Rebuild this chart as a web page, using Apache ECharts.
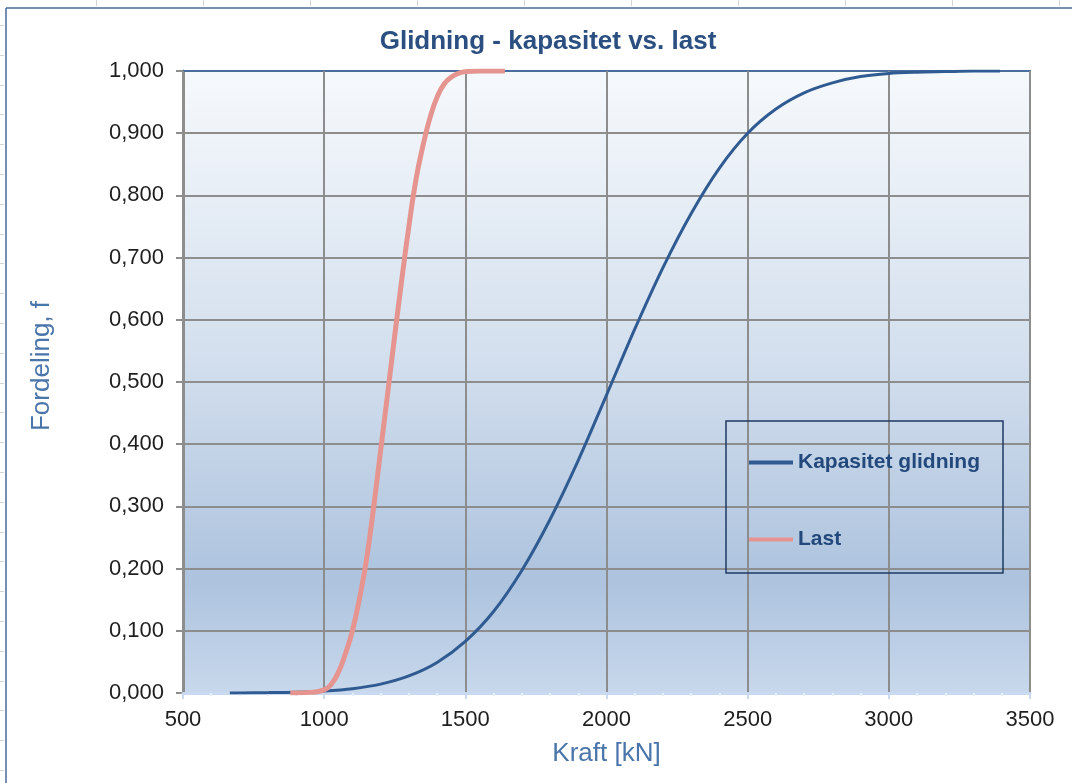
<!DOCTYPE html>
<html>
<head>
<meta charset="utf-8">
<script src="https://cdn.jsdelivr.net/npm/echarts@6/dist/echarts.min.js"></script>
<style>html,body{margin:0;padding:0;background:#fff;}#c{width:1072px;height:783px;}</style>
</head>
<body>
<div id="c"></div>
<script>
// ---- data ----
const titleText = 'Glidning - kapasitet vs. last';
const xName = 'Kraft [kN]';
const yName = 'Fordeling, f';
const seriesNames = ['Kapasitet glidning', 'Last'];

const kapX = [666, 700, 800, 900, 1000, 1100, 1200, 1300, 1400, 1500, 1600, 1700, 1800, 1900, 2000, 2100, 2200, 2300, 2400, 2500, 2600, 2700, 2800, 2900, 3000, 3100, 3200, 3300, 3394];
const kapY = [0.0001, 0.0002, 0.0006, 0.0014, 0.0033, 0.0070, 0.0143, 0.0274, 0.0491, 0.0829, 0.131, 0.197, 0.279, 0.374, 0.479, 0.585, 0.684, 0.771, 0.844, 0.900, 0.939, 0.965, 0.981, 0.991, 0.996, 0.998, 0.999, 1.000, 1.000];

const lastX = [880, 950, 1000, 1025, 1050, 1075, 1100, 1125, 1150, 1175, 1200, 1225, 1250, 1275, 1300, 1325, 1350, 1375, 1400, 1425, 1450, 1475, 1500, 1550, 1640];
const lastY = [0.000, 0.001, 0.005, 0.014, 0.033, 0.063, 0.100, 0.152, 0.215, 0.298, 0.390, 0.482, 0.575, 0.665, 0.750, 0.825, 0.880, 0.925, 0.958, 0.979, 0.990, 0.996, 0.999, 1.000, 1.000];

const xMin = 500, xMax = 3500, xStep = 500;
const yMin = 0, yMax = 1, yStep = 0.1;

// ---- chart ----
const chart = echarts.init(document.getElementById('c'), null, {renderer: 'canvas'});
const font = 'Liberation Sans, Arial, sans-serif';

const deco = [];
// outer frame of the chart object
deco.push({type: 'line', shape: {x1: 6, y1: 8, x2: 6, y2: 783}, style: {stroke: '#4a6a99', lineWidth: 1.5}, silent: true});
deco.push({type: 'line', shape: {x1: 6, y1: 8, x2: 1072, y2: 8}, style: {stroke: '#4a6a99', lineWidth: 1.5}, silent: true});
// spreadsheet cell marks outside the chart frame
for (let x = 96; x < 1072; x += 107.0) {
  deco.push({type: 'line', shape: {x1: Math.round(x) + 0.5, y1: 0, x2: Math.round(x) + 0.5, y2: 6}, style: {stroke: '#d4d4d4', lineWidth: 1}, silent: true});
}
for (let y = 25; y < 783; y += 29.8) {
  deco.push({type: 'line', shape: {x1: 0, y1: Math.round(y) + 0.5, x2: 4, y2: Math.round(y) + 0.5}, style: {stroke: '#d4d4d4', lineWidth: 1}, silent: true});
}
// legend frame
deco.push({type: 'rect', shape: {x: 726, y: 421, width: 277, height: 152}, style: {fill: 'none', stroke: '#1f3a64', lineWidth: 1.5}, z: 10, silent: true});

const option = {
  backgroundColor: '#ffffff',
  animation: false,
  title: {
    text: titleText,
    left: 543, textAlign: 'center',
    top: 24,
    textStyle: {fontFamily: font, fontWeight: 'bold', fontSize: 26, color: '#2a4f80'}
  },
  legend: {
    orient: 'vertical',
    left: 744, top: 447,
    itemWidth: 44, itemHeight: 4, itemGap: 56,
    textStyle: {fontFamily: font, fontWeight: 'bold', fontSize: 21, color: '#23497c'},
    data: [
      {name: seriesNames[0], icon: 'rect', itemStyle: {color: '#2f5b92'}},
      {name: seriesNames[1], icon: 'rect', itemStyle: {color: '#e5948f'}}
    ]
  },
  grid: {
    left: 183, right: 42, top: 71, bottom: 90,
    show: true, borderWidth: 0,
    backgroundColor: new echarts.graphic.LinearGradient(0, 0, 0, 1, [
      {offset: 0, color: '#f6f9fc'},
      {offset: 0.45, color: '#d4e0ee'},
      {offset: 0.82, color: '#adc3de'},
      {offset: 1, color: '#c8d8ec'}
    ])
  },
  xAxis: [{
    type: 'value', min: xMin, max: xMax, interval: xStep,
    name: xName, nameLocation: 'middle', nameGap: 48,
    nameTextStyle: {fontFamily: font, fontSize: 26, color: '#4a75aa'},
    axisLine: {show: true, onZero: false, lineStyle: {color: '#c9daf0', width: 3}},
    axisTick: {show: true, length: 6, lineStyle: {color: '#c9daf0', width: 2}},
    minorTick: {show: true, splitNumber: 5, length: 3, lineStyle: {color: '#e6eef8', width: 2}},
    axisLabel: {fontFamily: font, fontSize: 22, color: '#1e1e1e', margin: 16, formatter: v => String(v)},
    splitLine: {show: true, lineStyle: {color: '#8d8d8d', width: 2}},
    z: 2
  }, {
    type: 'value', min: xMin, max: xMax, interval: xStep, position: 'top',
    axisLine: {show: true, onZero: false, lineStyle: {color: '#4b6d9d', width: 2}},
    axisTick: {show: false}, axisLabel: {show: false}, splitLine: {show: false}
  }],
  yAxis: [{
    type: 'value', min: yMin, max: yMax, interval: yStep,
    name: yName, nameLocation: 'middle', nameGap: 128, nameRotate: 90,
    nameTextStyle: {fontFamily: font, fontSize: 26, color: '#4a75aa', padding: [0, 0, 0, 32]},
    axisLine: {show: true, onZero: false, lineStyle: {color: '#8d8d8d', width: 3}},
    axisTick: {show: true, length: 7, lineStyle: {color: '#8d8d8d', width: 2}},
    axisLabel: {
      fontFamily: font, fontSize: 22, color: '#1e1e1e', margin: 19,
      formatter: v => v.toFixed(3).replace('.', ',')
    },
    splitLine: {show: true, lineStyle: {color: '#8d8d8d', width: 2}}
  }, {
    type: 'value', min: yMin, max: yMax, interval: yStep, position: 'right',
    axisLine: {show: true, onZero: false, lineStyle: {color: '#4b6d9d', width: 2}},
    axisTick: {show: false}, axisLabel: {show: false}, splitLine: {show: false}
  }],
  series: [{
    name: seriesNames[0], type: 'line',
    data: kapX.map((x, i) => [x, kapY[i]]),
    symbol: 'none', smooth: 0.3,
    lineStyle: {color: '#2f5b92', width: 3},
    itemStyle: {color: '#2f5b92'},
    z: 3
  }, {
    name: seriesNames[1], type: 'line',
    data: lastX.map((x, i) => [x, lastY[i]]),
    symbol: 'none', smooth: 0.5,
    lineStyle: {color: '#e5948f', width: 5},
    itemStyle: {color: '#e5948f'},
    z: 4
  }],
  graphic: deco
};
chart.setOption(option);
</script>
</body>
</html>
